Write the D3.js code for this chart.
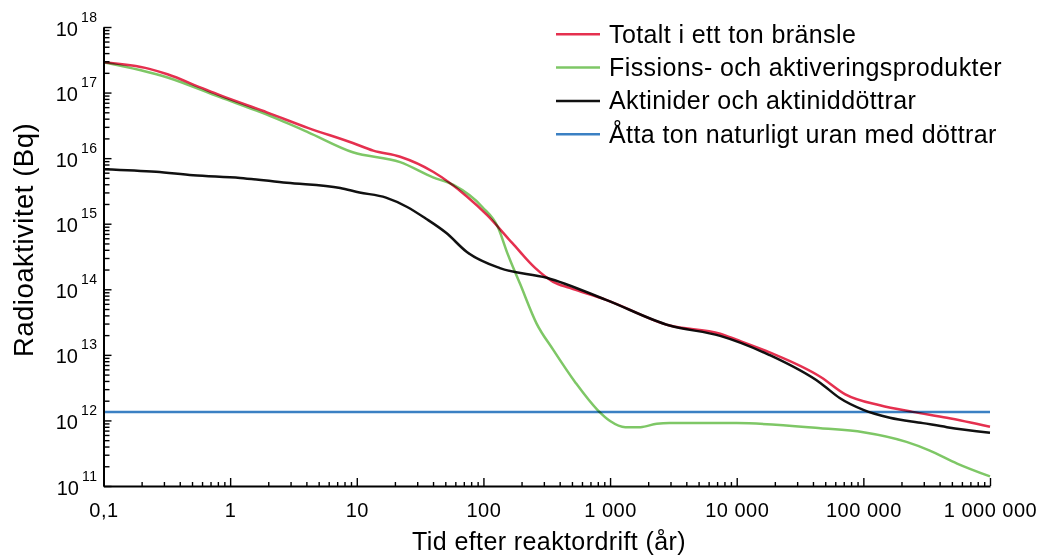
<!DOCTYPE html>
<html>
<head>
<meta charset="utf-8">
<script src="https://cdn.jsdelivr.net/npm/d3@7"></script>
<style>
  body { margin: 0; background: #fff; }
  svg { font-family: "Liberation Sans", Arial, Helvetica, sans-serif; }
</style>
</head>
<body>
<div id="chart"></div>
<script>
// years after reactor shutdown, activity in Bq
var totalt = [
    [0.1, 2.9e17], [0.23, 2.3e17], [0.32, 1.9e17], [0.58, 1.2e17], [0.83, 9.1e16],
    [1.95, 5.0e16], [4.1, 2.9e16], [9.3, 1.7e16], [13.5, 1.3e16], [22, 1.05e16],
    [40, 6.2e15], [74, 2.6e15], [107, 1.35e15], [170, 5.0e14], [257, 2.1e14],
    [355, 1.3e14], [480, 1.05e14], [930, 6.9e13], [2950, 2.8e13], [7400, 2.1e13],
    [10000, 1.7e13], [18000, 1.1e13], [46000, 4.6e12], [72000, 2.5e12],
    [135000, 1.7e12], [245000, 1.35e12], [457000, 1.1e12], [1000000, 8.0e11]
]

var fission = [
    [0.1, 2.9e17], [0.32, 1.7e17], [0.83, 8.5e16], [1.95, 4.6e16], [4.1, 2.5e16],
    [9.3, 1.23e16], [22, 8.7e15], [40, 5.1e15], [58, 3.9e15], [98, 1.8e15],
    [130, 8.9e14], [155, 3.5e14], [195, 1.2e14], [263, 3.0e13], [355, 1.2e13],
    [537, 3.7e12], [794, 1.45e12], [1000, 9.8e11], [1320, 7.9e11], [1740, 7.9e11],
    [2340, 8.9e11], [2950, 9.1e11], [10000, 9.1e11], [46000, 7.6e11], [100000, 6.6e11],
    [219000, 4.7e11], [331000, 3.5e11], [550000, 2.2e11], [1000000, 1.4e11]
]

var aktinider = [
    [0.1, 6.8e15], [0.26, 6.2e15], [0.51, 5.5e15], [1.2, 5.0e15], [2.8, 4.2e15],
    [7.4, 3.5e15], [10.5, 3.0e15], [17, 2.5e15], [25, 1.8e15], [35, 1.2e15],
    [51, 7.2e14], [74, 3.7e14], [135, 2.1e14], [316, 1.5e14], [930, 6.9e13],
    [2950, 2.8e13], [7400, 1.95e13], [18000, 1.0e13], [46000, 3.7e12], [65000, 2.2e12],
    [100000, 1.45e12], [162000, 1.1e12], [295000, 9.1e11], [457000, 7.9e11], [1000000, 6.5e11]
]

var uran = [[0.1, 1.35e12], [1000000, 1.35e12]]

var x_ticks = [0.1, 1, 10, 100, 1000, 10000, 100000, 1000000]
var x_labels = ['0,1', '1', '10', '100', '1 000', '10 000', '100 000', '1 000 000']
var y_exponents = [11, 12, 13, 14, 15, 16, 17, 18]

var series_names = [
    'Totalt i ett ton bränsle',
    'Fissions- och aktiveringsprodukter',
    'Aktinider och aktiniddöttrar',
    'Åtta ton naturligt uran med döttrar'
]
var series_colors = ['#e5304f', '#7ec766', '#111111', '#3b80c3']

var chart_width = 1040;
var chart_height = 560;

var svg = d3.select('#chart')
    .append('svg')
    .attr('width', chart_width)
    .attr('height', chart_height)

var plot_left = 103.5, plot_right = 990, plot_top = 27, plot_bottom = 486;

var x_scale = d3.scaleLog()
    .domain([0.1, 1000000])
    .range([plot_left, plot_right])

var y_scale = d3.scaleLog()
    .domain([1e11, 1e18])
    .range([plot_bottom, plot_top])

// minor ticks 2..9 in every decade
var x_minor = [], y_minor = [];
x_ticks.slice(0, -1).forEach(function (d) {
    for (var k = 2; k < 10; k++) x_minor.push(d * k)
})
y_exponents.slice(0, -1).forEach(function (e) {
    for (var k = 2; k < 10; k++) y_minor.push(k * Math.pow(10, e))
})

// x axis
svg.append('g')
    .attr('transform', 'translate(0,' + plot_bottom + ')')
    .call(d3.axisBottom(x_scale).tickValues(x_minor).tickSize(-4).tickSizeOuter(0).tickFormat(''))
    .call(function (g) { g.select('.domain').remove() })

var x_axis = svg.append('g')
    .attr('transform', 'translate(0,' + plot_bottom + ')')
    .call(d3.axisBottom(x_scale)
        .tickValues(x_ticks)
        .tickSize(-8)
        .tickSizeOuter(0)
        .tickPadding(17)
        .tickFormat(function (d, i) { return x_labels[i] }))

x_axis.attr('font-size', null).attr('font-family', null)
x_axis.selectAll('text')
    .attr('font-size', 20)
    .attr('letter-spacing', 0.5)
    .attr('fill', '#000')

// y axis
svg.append('g')
    .attr('transform', 'translate(' + plot_left + ',0)')
    .call(d3.axisLeft(y_scale).tickValues(y_minor).tickSize(-6).tickSizeOuter(0).tickFormat(''))
    .call(function (g) { g.select('.domain').remove() })

var y_axis = svg.append('g')
    .attr('transform', 'translate(' + plot_left + ',0)')
    .call(d3.axisLeft(y_scale)
        .tickValues(y_exponents.map(function (e) { return Math.pow(10, e) }))
        .tickSize(-8)
        .tickSizeOuter(0)
        .tickFormat(''))

y_axis.attr('font-size', null).attr('font-family', null)
y_axis.selectAll('.tick').each(function (d, i) {
    var t = d3.select(this).select('text')
        .attr('x', -6)
        .attr('dy', null)
        .attr('y', 8)
        .attr('text-anchor', 'end')
        .attr('fill', '#000')
    t.append('tspan').attr('font-size', 20).text('10')
    t.append('tspan').attr('font-size', 14).attr('letter-spacing', 0.5).attr('dx', 3).attr('dy', -14).text(y_exponents[i])
})

svg.selectAll('.domain').attr('stroke', '#000').attr('stroke-width', 2)
svg.selectAll('.tick line').attr('stroke', '#000').attr('stroke-width', 1.4)

// lines
var line = d3.line()
    .x(function (d) { return x_scale(d[0]) })
    .y(function (d) { return y_scale(d[1]) })
    .curve(d3.curveMonotoneX)

var all_series = [uran, fission, aktinider, totalt]
var all_colors = [series_colors[3], series_colors[1], series_colors[2], series_colors[0]]

svg.selectAll('path.serie')
    .data(all_series)
    .enter()
    .append('path')
    .attr('class', 'serie')
    .attr('d', line)
    .attr('fill', 'none')
    .attr('stroke', function (d, i) { return all_colors[i] })
    .attr('stroke-width', 2.5)
    .style('mix-blend-mode', 'multiply')

// legend
var legend = svg.selectAll('g.legend')
    .data(series_names)
    .enter()
    .append('g')
    .attr('class', 'legend')
    .attr('transform', function (d, i) { return 'translate(556,' + (34.3 + i * 33.3) + ')' })

legend.append('line')
    .attr('x1', 0)
    .attr('x2', 44)
    .attr('stroke', function (d, i) { return series_colors[i] })
    .attr('stroke-width', 2.5)

legend.append('text')
    .attr('x', 53)
    .attr('y', 8.5)
    .attr('font-size', 25)
    .attr('letter-spacing', 0.4)
    .text(function (d) { return d })

// axis titles
svg.append('text')
    .attr('x', 549)
    .attr('y', 550)
    .attr('text-anchor', 'middle')
    .attr('font-size', 25)
    .attr('letter-spacing', 0.4)
    .text('Tid efter reaktordrift (år)')

svg.append('text')
    .attr('transform', 'translate(33,240) rotate(-90)')
    .attr('text-anchor', 'middle')
    .attr('font-size', 27.5)
    .attr('letter-spacing', 0.5)
    .text('Radioaktivitet (Bq)')
</script>
</body>
</html>
